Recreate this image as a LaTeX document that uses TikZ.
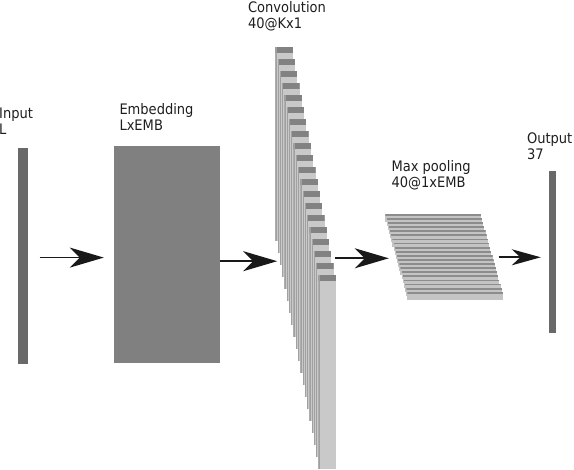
\documentclass[tikz,border=0pt]{standalone}
\usepackage{fontspec}
\setmainfont{DejaVu Sans}[FakeStretch=0.9]
\usetikzlibrary{arrows.meta}
\definecolor{barDark}{RGB}{105,105,105}
\definecolor{embGray}{RGB}{128,128,128}
\definecolor{sliceDark}{RGB}{130,130,130}
\definecolor{sliceLight}{RGB}{201,201,201}
\definecolor{sliceSide}{RGB}{160,160,160}
\definecolor{poolDark}{RGB}{140,140,140}
\definecolor{poolLight}{RGB}{196,196,196}
\definecolor{txt}{RGB}{30,30,30}
\begin{document}
\begin{tikzpicture}[x=1pt,y=-1pt,
  lbl/.style={anchor=base west, align=left, inner sep=0pt, outer sep=0pt, text=txt,
    font=\fontsize{14.5pt}{16pt}\selectfont},
  bar/.style={rectangle, fill=barDark, inner sep=0pt, outer sep=0pt, anchor=north west},
  convslice/.style={rectangle, fill=sliceLight, inner sep=0pt, outer sep=0pt,
    minimum width=17.5pt, minimum height=194pt, anchor=north west,
    path picture={
      \fill[sliceDark] (path picture bounding box.north west) rectangle ([yshift=-5.4pt]path picture bounding box.north east);
      \fill[sliceSide] (path picture bounding box.north west) rectangle ([xshift=1.3pt]path picture bounding box.south west);
    }},
  poolbar/.style={rectangle, fill=poolLight, inner sep=0pt, outer sep=0pt,
    minimum width=95.5pt, minimum height=8pt, anchor=north west,
    path picture={
      \fill[poolDark] (path picture bounding box.north west) rectangle ([yshift=-1.8pt]path picture bounding box.north east);
    }},
  arr/.style={draw=black!90, line width=1.7pt, -{Stealth[length=34pt, width=20pt, inset=10pt]}},
  arrs/.style={draw=black!90, line width=1.7pt, -{Stealth[length=29pt, width=16pt, inset=8.5pt]}}
]
\useasboundingbox (0,0) rectangle (574,470);

% input
\node[bar, minimum width=9.2pt, minimum height=216.3pt] (inp) at (18.3,148) {};
\node[lbl] (tinp) at (-0.8,134.3) {Input\\L};

% embedding
\node[rectangle, fill=embGray, inner sep=0pt, outer sep=0pt, anchor=north west,
  minimum width=106.8pt, minimum height=217.3pt] (emb) at (113.5,146) {};
\node[lbl] (temb) at (119.5,130.6) {Embedding\\LxEMB};

% convolution stack
\foreach \i in {0,...,19} {
  \node[convslice] (conv\i) at ({275.3+2.27*\i},{47.3+12*\i}) {};
}
\node[lbl] (tconv) at (248,28.4) {Convolution\\40@Kx1};

% max pooling stack
\foreach \i in {0,...,19} {
  \node[poolbar] (pool\i) at ({385.4+1.16*\i},{214+4.1*\i}) {};
}
\node[lbl] (tpool) at (391.5,187.3) {Max pooling\\40@1xEMB};

% output
\node[bar, minimum width=7.6pt, minimum height=161.4pt] (out) at (548.8,171.3) {};
\node[lbl] (tout) at (527,159.5) {Output\\37};

% arrow end points
\coordinate (a1s) at (39.5,257.6);
\coordinate (a1e) at (103.8,257.6);
\coordinate (a2s) at (220.3,261.2);
\coordinate (a2e) at (277.2,261.2);
\coordinate (a3s) at (335,258.3);
\coordinate (a3e) at (388.8,258.3);
\coordinate (a4s) at (498.5,257.3);
\coordinate (a4e) at (540.8,257.3);

\draw[arr] (a1s) -- (a1e);
\draw[arr] (a2s) -- (a2e);
\draw[arr] (a3s) -- (a3e);
\draw[arrs] (a4s) -- (a4e);
\end{tikzpicture}
\end{document}
